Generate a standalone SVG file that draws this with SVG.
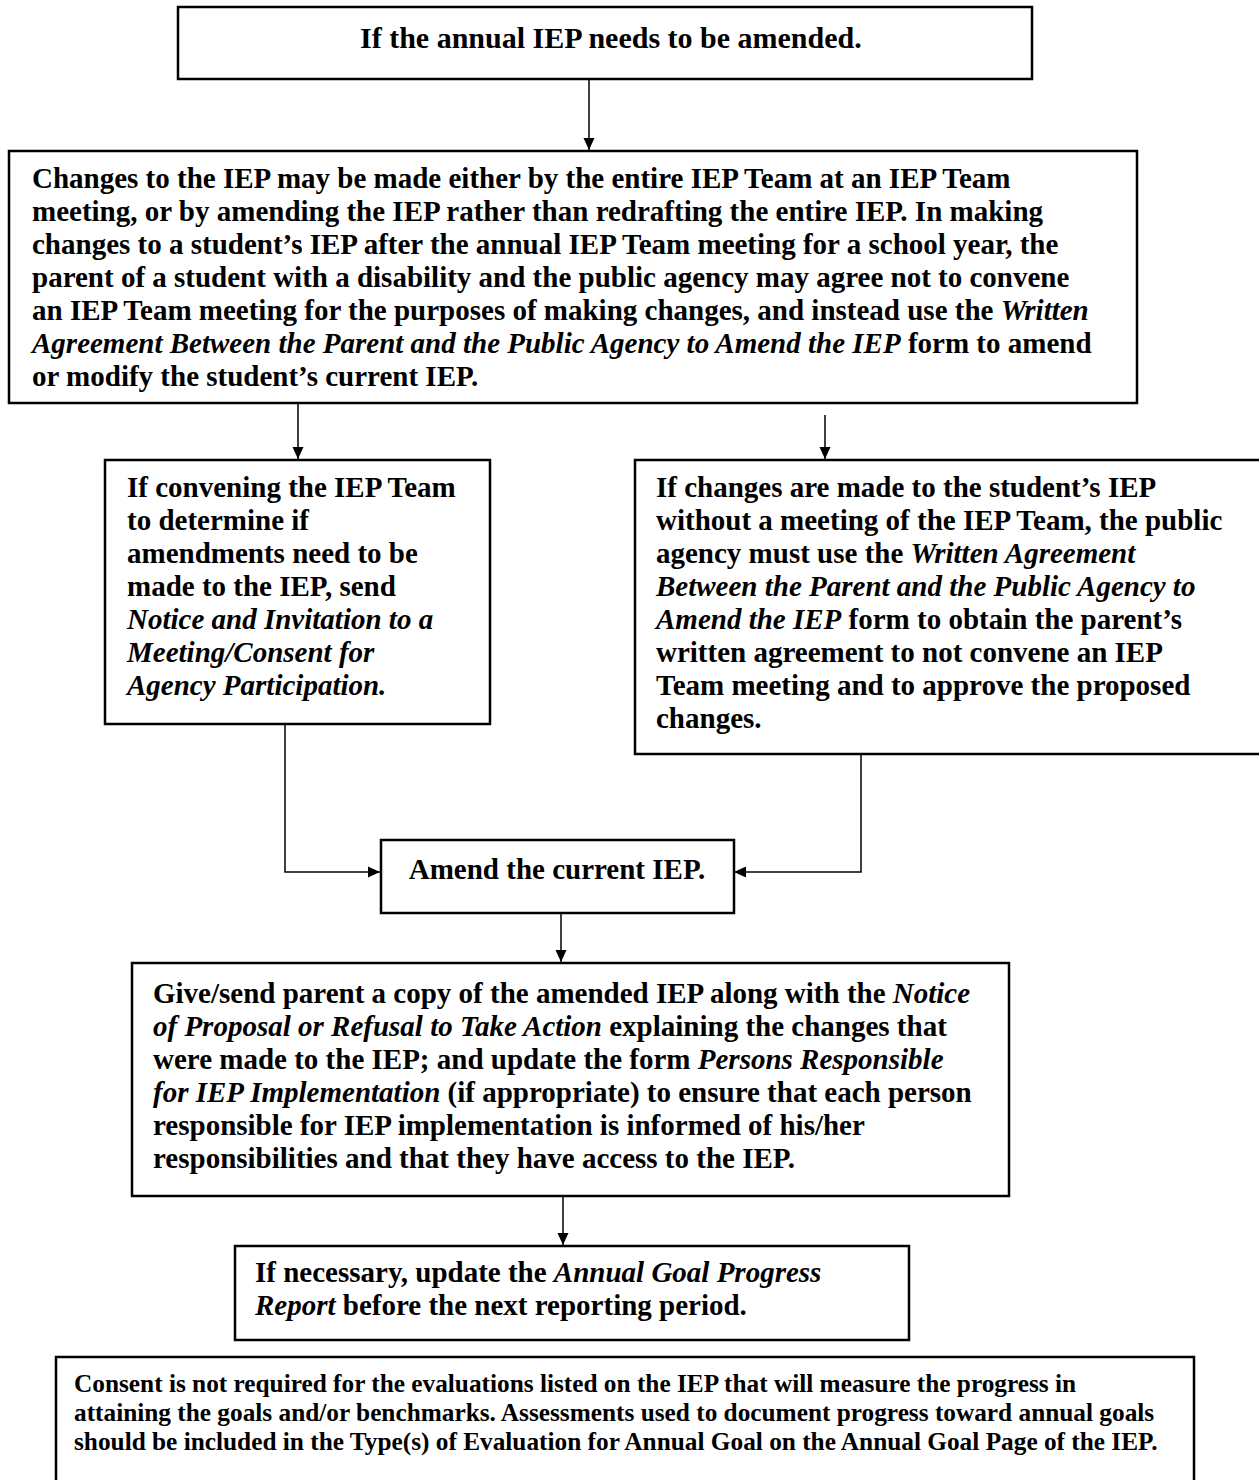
<svg xmlns="http://www.w3.org/2000/svg" width="1259" height="1480" viewBox="0 0 1259 1480">
<style>
.box{fill:#fff;stroke:#000;stroke-width:2.5}
.t{font-family:"Liberation Serif","Times New Roman",serif;font-weight:bold;font-size:29px;fill:#000}
.h{font-size:30px}
.s{font-size:25.3px}
.i{font-style:italic}
.c{fill:none;stroke:#000;stroke-width:1.5}
</style>
<defs>
<marker id="ah" markerWidth="12" markerHeight="12" refX="12" refY="6" orient="auto" markerUnits="userSpaceOnUse" viewBox="0 0 12 12">
<path d="M0,0.5 L12,6 L0,11.5 Z" fill="#000"/>
</marker>
</defs>
<rect width="1259" height="1480" fill="#fff"/>
<g id="connectors">
<path class="c" d="M589,79 V150" marker-end="url(#ah)"/>
<path class="c" d="M298,403 V459" marker-end="url(#ah)"/>
<path class="c" d="M825,415 V459" marker-end="url(#ah)"/>
<path class="c" d="M285,724 V872 H380" marker-end="url(#ah)"/>
<path class="c" d="M861,754 V872 H734" marker-end="url(#ah)"/>
<path class="c" d="M561,913 V962" marker-end="url(#ah)"/>
<path class="c" d="M563,1196 V1245" marker-end="url(#ah)"/>
</g>
<g id="n1">
<rect class="box" x="178" y="7" width="854" height="72"/>
<text class="t h" x="360" y="48">If the annual IEP needs to be amended.</text>
</g>
<g id="n2">
<rect class="box" x="9" y="151" width="1128" height="252"/>
<text class="t" x="32" y="188">Changes to the IEP may be made either by the entire IEP Team at an IEP Team</text>
<text class="t" x="32" y="221">meeting, or by amending the IEP rather than redrafting the entire IEP.  In making</text>
<text class="t" x="32" y="254">changes to a student’s IEP after the annual IEP Team meeting for a school year, the</text>
<text class="t" x="32" y="287">parent of a student with a disability and the public agency may agree not to convene</text>
<text class="t" x="32" y="320">an IEP Team meeting for the purposes of making changes, and instead use the <tspan class="i">Written</tspan></text>
<text class="t" x="32" y="353"><tspan class="i">Agreement Between the Parent and the Public Agency to Amend the IEP</tspan> form to amend</text>
<text class="t" x="32" y="386">or modify the student’s current IEP.</text>
</g>
<g id="n3">
<rect class="box" x="105" y="460" width="385" height="264"/>
<text class="t" x="127" y="497">If convening the IEP Team</text>
<text class="t" x="127" y="530">to determine if</text>
<text class="t" x="127" y="563">amendments need to be</text>
<text class="t" x="127" y="596">made to the IEP, send</text>
<text class="t i" x="127" y="629">Notice and Invitation to a</text>
<text class="t i" x="127" y="662">Meeting/Consent for</text>
<text class="t i" x="127" y="695">Agency Participation.</text>
</g>
<g id="n4">
<rect class="box" x="635" y="460" width="630" height="294"/>
<text class="t" x="656" y="497">If changes are made to the student’s IEP</text>
<text class="t" x="656" y="530">without a meeting of the IEP Team, the public</text>
<text class="t" x="656" y="563">agency must use the <tspan class="i">Written Agreement</tspan></text>
<text class="t i" x="656" y="596">Between the Parent and the Public Agency to</text>
<text class="t" x="656" y="629"><tspan class="i">Amend the IEP</tspan> form to obtain the parent’s</text>
<text class="t" x="656" y="662">written agreement to not convene an IEP</text>
<text class="t" x="656" y="695">Team meeting and to approve the proposed</text>
<text class="t" x="656" y="728">changes.</text>
</g>
<g id="n5">
<rect class="box" x="381" y="840" width="353" height="73"/>
<text class="t" x="557" y="879" text-anchor="middle">Amend the current IEP.</text>
</g>
<g id="n6">
<rect class="box" x="132" y="963" width="877" height="233"/>
<text class="t" x="153" y="1003">Give/send parent a copy of the amended IEP along with the <tspan class="i">Notice</tspan></text>
<text class="t" x="153" y="1036"><tspan class="i">of Proposal or Refusal to Take Action</tspan> explaining the changes that</text>
<text class="t" x="153" y="1069">were made to the IEP; and update the form <tspan class="i">Persons Responsible</tspan></text>
<text class="t" x="153" y="1102"><tspan class="i">for IEP Implementation</tspan> (if appropriate) to ensure that each person</text>
<text class="t" x="153" y="1135">responsible for IEP implementation is informed of his/her</text>
<text class="t" x="153" y="1168">responsibilities and that they have access to the IEP.</text>
</g>
<g id="n7">
<rect class="box" x="235" y="1246" width="674" height="94"/>
<text class="t" x="255" y="1282">If necessary, update the <tspan class="i">Annual Goal Progress</tspan></text>
<text class="t" x="255" y="1315"><tspan class="i">Report</tspan> before the next reporting period.</text>
</g>
<g id="n8">
<rect class="box" x="56" y="1357" width="1138" height="140"/>
<text class="t s" x="74" y="1392">Consent is not required for the evaluations listed on the IEP that will measure the progress in</text>
<text class="t s" x="74" y="1421">attaining the goals and/or benchmarks.  Assessments used to document progress toward annual goals</text>
<text class="t s" x="74" y="1450">should be included in the Type(s) of Evaluation for Annual Goal on the Annual Goal Page of the IEP.</text>
</g>
</svg>
